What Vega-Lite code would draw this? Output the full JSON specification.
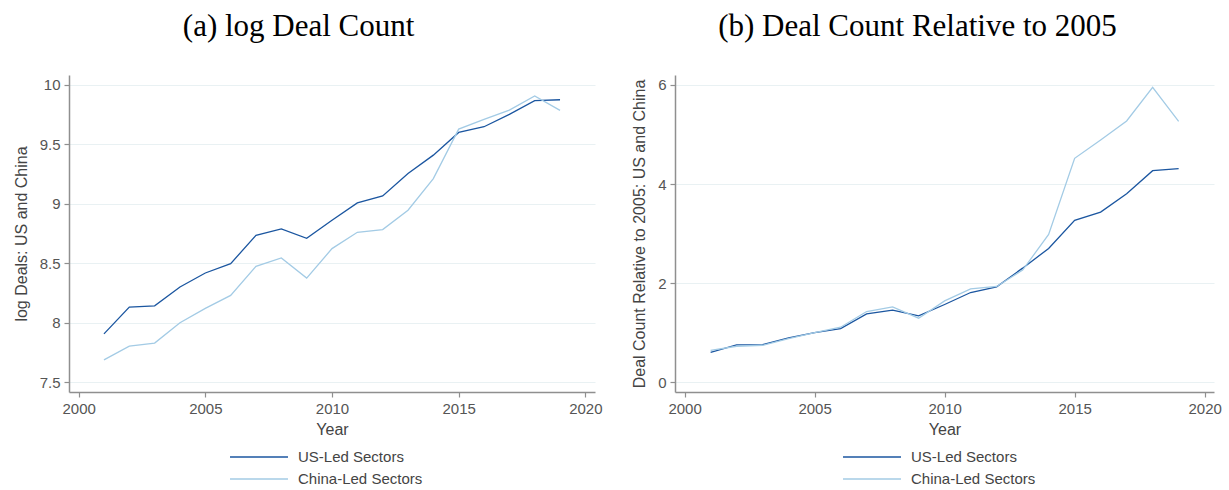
{
  "$schema": "https://vega.github.io/schema/vega-lite/v6.json",
  "background": "white",
  "padding": {"left": 13, "top": 11, "right": 5, "bottom": 5},
  "spacing": 28,
  "data": {"values": [
    {"year": 2001, "sector": "US-Led Sectors", "logdeals": 7.907, "rel": 0.606},
    {"year": 2002, "sector": "US-Led Sectors", "logdeals": 8.132, "rel": 0.754},
    {"year": 2003, "sector": "US-Led Sectors", "logdeals": 8.143, "rel": 0.761},
    {"year": 2004, "sector": "US-Led Sectors", "logdeals": 8.301, "rel": 0.896},
    {"year": 2005, "sector": "US-Led Sectors", "logdeals": 8.419, "rel": 1.0},
    {"year": 2006, "sector": "US-Led Sectors", "logdeals": 8.497, "rel": 1.084},
    {"year": 2007, "sector": "US-Led Sectors", "logdeals": 8.736, "rel": 1.38},
    {"year": 2008, "sector": "US-Led Sectors", "logdeals": 8.789, "rel": 1.455},
    {"year": 2009, "sector": "US-Led Sectors", "logdeals": 8.711, "rel": 1.34},
    {"year": 2010, "sector": "US-Led Sectors", "logdeals": 8.862, "rel": 1.569},
    {"year": 2011, "sector": "US-Led Sectors", "logdeals": 9.008, "rel": 1.811},
    {"year": 2012, "sector": "US-Led Sectors", "logdeals": 9.067, "rel": 1.926},
    {"year": 2013, "sector": "US-Led Sectors", "logdeals": 9.256, "rel": 2.303},
    {"year": 2014, "sector": "US-Led Sectors", "logdeals": 9.41, "rel": 2.7},
    {"year": 2015, "sector": "US-Led Sectors", "logdeals": 9.601, "rel": 3.266},
    {"year": 2016, "sector": "US-Led Sectors", "logdeals": 9.649, "rel": 3.434},
    {"year": 2017, "sector": "US-Led Sectors", "logdeals": 9.753, "rel": 3.805},
    {"year": 2018, "sector": "US-Led Sectors", "logdeals": 9.868, "rel": 4.269},
    {"year": 2019, "sector": "US-Led Sectors", "logdeals": 9.876, "rel": 4.31},
    {"year": 2001, "sector": "China-Led Sectors", "logdeals": 7.688, "rel": 0.646},
    {"year": 2002, "sector": "China-Led Sectors", "logdeals": 7.803, "rel": 0.727},
    {"year": 2003, "sector": "China-Led Sectors", "logdeals": 7.829, "rel": 0.747},
    {"year": 2004, "sector": "China-Led Sectors", "logdeals": 8.0, "rel": 0.882},
    {"year": 2005, "sector": "China-Led Sectors", "logdeals": 8.121, "rel": 1.0},
    {"year": 2006, "sector": "China-Led Sectors", "logdeals": 8.23, "rel": 1.111},
    {"year": 2007, "sector": "China-Led Sectors", "logdeals": 8.475, "rel": 1.428},
    {"year": 2008, "sector": "China-Led Sectors", "logdeals": 8.545, "rel": 1.522},
    {"year": 2009, "sector": "China-Led Sectors", "logdeals": 8.376, "rel": 1.293},
    {"year": 2010, "sector": "China-Led Sectors", "logdeals": 8.624, "rel": 1.643},
    {"year": 2011, "sector": "China-Led Sectors", "logdeals": 8.761, "rel": 1.886},
    {"year": 2012, "sector": "China-Led Sectors", "logdeals": 8.784, "rel": 1.933},
    {"year": 2013, "sector": "China-Led Sectors", "logdeals": 8.947, "rel": 2.263},
    {"year": 2014, "sector": "China-Led Sectors", "logdeals": 9.213, "rel": 2.983},
    {"year": 2015, "sector": "China-Led Sectors", "logdeals": 9.629, "rel": 4.519},
    {"year": 2016, "sector": "China-Led Sectors", "logdeals": 9.711, "rel": 4.889},
    {"year": 2017, "sector": "China-Led Sectors", "logdeals": 9.789, "rel": 5.273},
    {"year": 2018, "sector": "China-Led Sectors", "logdeals": 9.907, "rel": 5.953},
    {"year": 2019, "sector": "China-Led Sectors", "logdeals": 9.787, "rel": 5.266}
  ]},
  "config": {
    "view": {"stroke": null},
    "font": "Liberation Sans",
    "title": {"font": "Liberation Serif", "fontSize": 31, "fontWeight": "normal", "color": "#000000", "anchor": "middle", "frame": "bounds", "offset": 32, "dx": -9},
    "axis": {
      "labelFont": "Liberation Sans", "labelFontSize": 15, "labelColor": "#555555",
      "titleFont": "Liberation Sans", "titleFontSize": 16, "titleFontWeight": "normal", "titleColor": "#444444",
      "domainColor": "#8f8f8f", "domainWidth": 1.5, "tickColor": "#8f8f8f", "tickWidth": 1.2, "tickSize": 5,
      "labelPadding": 4, "gridColor": "#e9f1f3", "gridWidth": 1.2
    },
    "axisX": {"grid": false, "titlePadding": 5, "labelFlush": false},
    "axisY": {"titlePadding": 10},
    "legend": {
      "orient": "none", "title": null, "labelFont": "Liberation Sans", "labelFontSize": 15, "labelColor": "#444444",
      "symbolType": "M-4,0H4", "symbolSize": 210, "symbolStrokeWidth": 1.5, "rowPadding": 6, "padding": 0, "labelOffset": 31
    },
    "line": {"strokeWidth": 1.3}
  },
  "resolve": {"scale": {"y": "independent"}, "legend": {"color": "independent"}},
  "hconcat": [
    {
      "title": "(a) log Deal Count",
      "width": 526,
      "height": 317,
      "mark": {"type": "line"},
      "encoding": {
        "x": {"field": "year", "type": "quantitative", "title": "Year",
              "scale": {"domain": [1999.62, 2020.38], "nice": false, "zero": false},
              "axis": {"values": [2000, 2005, 2010, 2015, 2020], "format": "d"}},
        "y": {"field": "logdeals", "type": "quantitative", "title": "log Deals: US and China",
              "scale": {"domain": [7.418, 10.084], "nice": false, "zero": false},
              "axis": {"values": [7.5, 8, 8.5, 9, 9.5, 10], "format": "~g"}},
        "color": {"field": "sector", "type": "nominal",
                  "scale": {"domain": ["US-Led Sectors", "China-Led Sectors"], "range": ["#1b56a0", "#a3cbe5"]},
                  "legend": {"legendX": 182, "legendY": 374}}
      }
    },
    {
      "title": "(b) Deal Count Relative to 2005",
      "width": 539,
      "height": 317,
      "mark": {"type": "line"},
      "encoding": {
        "x": {"field": "year", "type": "quantitative", "title": "Year",
              "scale": {"domain": [1999.63, 2020.36], "nice": false, "zero": false},
              "axis": {"values": [2000, 2005, 2010, 2015, 2020], "format": "d"}},
        "y": {"field": "rel", "type": "quantitative", "title": "Deal Count Relative to 2005: US and China",
              "scale": {"domain": [-0.196, 6.2], "nice": false, "zero": false},
              "axis": {"values": [0, 2, 4, 6], "format": "~g"}},
        "color": {"field": "sector", "type": "nominal",
                  "scale": {"domain": ["US-Led Sectors", "China-Led Sectors"], "range": ["#1b56a0", "#a3cbe5"]},
                  "legend": {"legendX": 189, "legendY": 374}}
      }
    }
  ]
}
